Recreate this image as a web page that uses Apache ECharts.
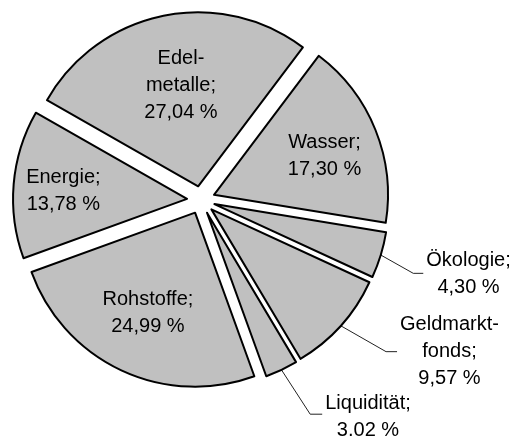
<!DOCTYPE html>
<html>
<head>
<meta charset="utf-8">
<script src="https://cdn.jsdelivr.net/npm/echarts@6/dist/echarts.min.js"></script>
<style>
  html, body { margin: 0; padding: 0; background: #fff; }
  #chart { width: 513px; height: 436px; }
</style>
</head>
<body>
<div id="chart"></div>
<script>
// slices in clockwise order, starting at the upper right
const names = ['Wasser', 'Ökologie', 'Geldmarktfonds', 'Liquidität', 'Rohstoffe', 'Energie', 'Edelmetalle'];
const labelNames = ['Wasser;', 'Ökologie;', 'Geldmarkt-\nfonds;', 'Liquidität;', 'Rohstoffe;', 'Energie;', 'Edel-\nmetalle;'];
const values = [17.30, 4.30, 9.57, 3.02, 24.99, 13.78, 27.04];
const outsideLabel = [false, true, true, true, false, false, false];

// layout tweaks (px): label nudges, leader line elbows and tails
const labelShift = [[27, -5], [0, 1], [0, 0], [0, 3], [-9, 19], [-34, 0], [1, -13]];
const leaderElbow = [null, [32.5, 18.3], [45.3, 25.9], [28.7, 44.3], null, null, null];
const leaderTail = [0, 10, 11, 12, 0, 0, 0];

const center = [201, 200];
const explode = 14;
const font = 'Liberation Sans, Arial, Helvetica, sans-serif';

const chart = echarts.init(document.getElementById('chart'));

const labelText = p => (labelNames[p.dataIndex] + '\n' + p.value.toFixed(2).replace('.', ',') + ' %')
    .split('\n').map(s => '{c|' + s + '}').join('\n');

const labelBase = {
    color: '#000',
    fontFamily: font,
    fontSize: 20,
    lineHeight: 27,
    formatter: labelText,
    rich: { c: { align: 'center', fontSize: 20, lineHeight: 27, color: '#000', fontFamily: font } }
};

// exploded slices, labels inside the big ones
const sliceData = values.map((v, i) => ({
    name: names[i],
    value: v,
    selected: true,
    label: { show: !outsideLabel[i] },
    labelLine: { show: false }
}));

// same pie, invisible, only carries the outside labels with leader lines
const labelData = values.map((v, i) => ({
    name: names[i],
    value: v,
    label: { show: outsideLabel[i] },
    labelLine: { show: outsideLabel[i] }
}));

const option = {
    animation: false,
    series: [{
        type: 'pie',
        center: center,
        radius: 174,
        startAngle: 53,
        clockwise: true,
        selectedMode: 'multiple',
        selectedOffset: explode,
        avoidLabelOverlap: false,
        itemStyle: { color: '#c0c0c0', borderColor: '#000', borderWidth: 2 },
        select: { itemStyle: { color: '#c0c0c0', borderColor: '#000', borderWidth: 2 } },
        emphasis: { disabled: true },
        label: Object.assign({ position: 'inside' }, labelBase),
        labelLayout: p => ({ dx: labelShift[p.dataIndex][0], dy: labelShift[p.dataIndex][1] }),
        data: sliceData
    }, {
        type: 'pie',
        center: center,
        radius: 174,
        startAngle: 53,
        clockwise: true,
        silent: true,
        avoidLabelOverlap: false,
        itemStyle: { color: 'rgba(0,0,0,0)', borderWidth: 0 },
        emphasis: { disabled: true },
        label: Object.assign({ position: 'outside' }, labelBase),
        labelLine: {
            length: 30,
            length2: 10,
            lineStyle: { color: '#222', width: 1 }
        },
        labelLayout: function (p) {
            const i = p.dataIndex;
            if (!outsideLabel[i] || !p.labelLinePoints) return {};
            const s0 = p.labelLinePoints[0];
            const vx = s0[0] - center[0];
            const vy = s0[1] - center[1];
            const len = Math.sqrt(vx * vx + vy * vy);
            const s = [s0[0] + explode * vx / len, s0[1] + explode * vy / len];
            const e1 = [s[0] + leaderElbow[i][0], s[1] + leaderElbow[i][1]];
            const e2 = [e1[0] + leaderTail[i], e1[1]];
            return {
                x: e2[0] + 3 + labelShift[i][0],
                y: e1[1] + labelShift[i][1],
                align: 'left',
                verticalAlign: 'middle',
                labelLinePoints: [s, e1, e2]
            };
        },
        data: labelData
    }]
};
option && chart.setOption(option);
</script>
</body>
</html>
